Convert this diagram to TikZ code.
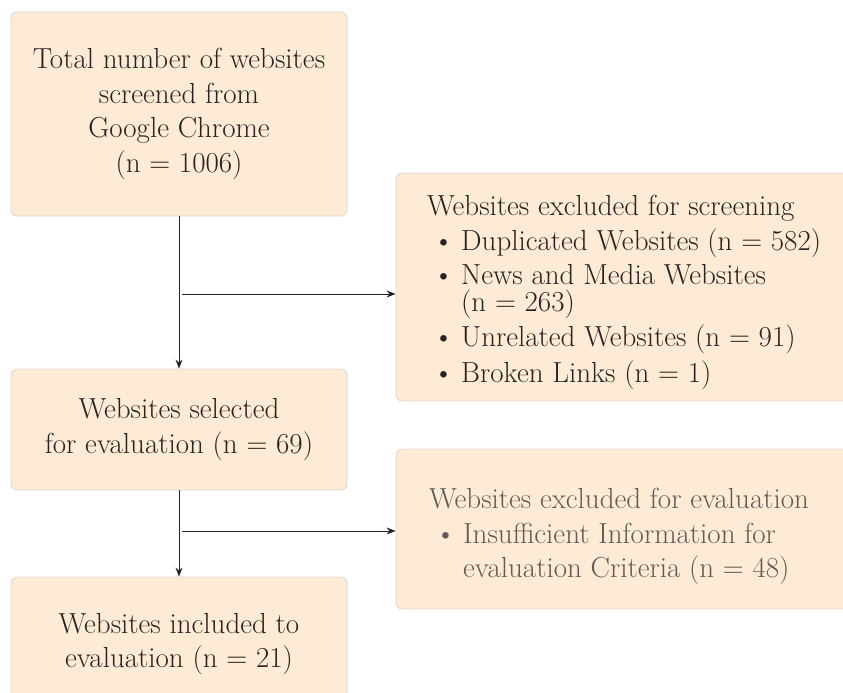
\documentclass[tikz,border=0pt]{standalone}
\usepackage{tikz}
\usetikzlibrary{arrows.meta,positioning}

\definecolor{boxfill}{RGB}{253,235,213}
\definecolor{boxline}{RGB}{220,214,207}
\definecolor{txtdark}{RGB}{38,36,34}
\definecolor{txtgray}{RGB}{96,91,86}

\tikzset{
    flowbox/.style={rectangle, rounded corners=6pt, draw=boxline, fill=boxfill,
        line width=0.8pt, inner sep=0pt},
    flowtext/.style={text=txtdark, align=center, font=\fontsize{29}{34.5}\selectfont},
    flowarrow/.style={-{Stealth[length=9pt,width=7pt]}, line width=1pt, draw=txtdark}
}

\newcommand{\bul}{\hspace*{6pt}\makebox[28pt][l]{\textbullet}}

\begin{document}
\begin{tikzpicture}[x=1pt,y=-1pt]

    \useasboundingbox (0,0) rectangle (843,693);
    \clip (0,0) rectangle (843,693);

    % left column
    \node[flowbox, flowtext, minimum width=336pt, minimum height=204pt] (total) at (179,114)
        {Total number of websites\\screened from\\Google Chrome\\(n = 1006)};
    \node[flowbox, flowtext, minimum width=336pt, minimum height=121pt] (selected) at (179,429.5)
        {Websites selected\\for evaluation (n = 69)};
    \node[flowbox, flowtext, minimum width=336pt, minimum height=134pt] (included) at (179,644)
        {Websites included to\\evaluation (n = 21)};

    % right column
    \node[flowbox, minimum width=464pt, minimum height=228pt] (screenout) at (628,287) {};
    \node[flowtext, align=left, anchor=north west, inner sep=0pt] (screenlist) at (427,195)
        {Websites excluded for screening\\
         \bul Duplicated Websites (n = 582)\\
         \bul News and Media Websites\\[-8pt]
         \hspace*{34pt}(n = 263)\\[1pt]
         \bul Unrelated Websites (n = 91)\\[1pt]
         \bul Broken Links (n = 1)};

    \node[flowbox, minimum width=464pt, minimum height=160pt] (evalout) at (628,529) {};
    \node[flowtext, text=txtgray, align=left, anchor=north west, inner sep=0pt] (evallist) at (429,488)
        {Websites excluded for evaluation\\
         \bul Insufficient Information for\\
         \hspace*{34pt}evaluation Criteria (n = 48)};

    % connectors
    \coordinate (split1) at (182,294);
    \coordinate (split2) at (182,531);
    \draw[flowarrow] (total) -- (selected);
    \draw[flowarrow] (split1) -- (split1 -| screenout.west);
    \draw[flowarrow] (selected) -- (included);
    \draw[flowarrow] (split2) -- (split2 -| evalout.west);

\end{tikzpicture}
\end{document}
